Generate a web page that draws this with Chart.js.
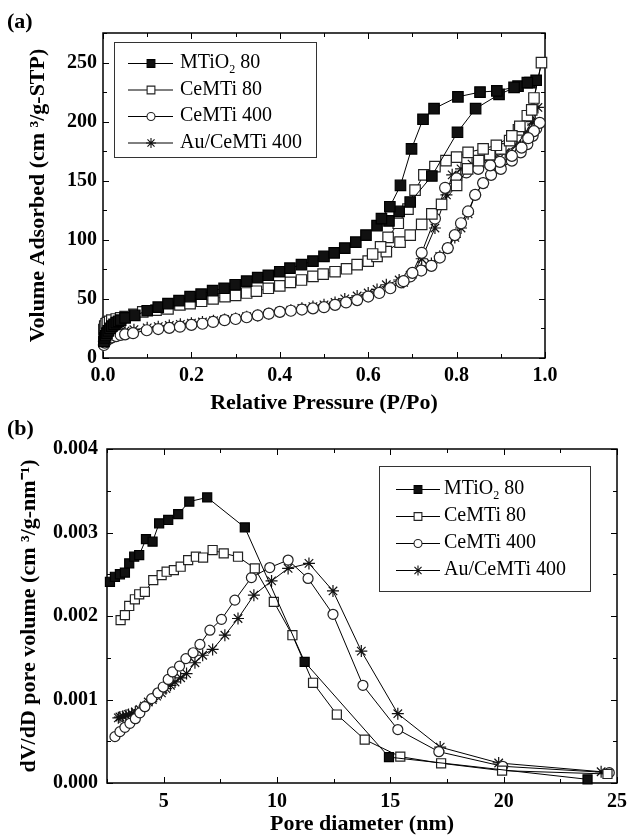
<!DOCTYPE html>
<html>
<head>
<meta charset="utf-8">
<script src="https://cdn.jsdelivr.net/npm/chart.js@4/dist/chart.umd.min.js"></script>
<style>
  html, body { margin: 0; padding: 0; background: #fff; }
  #wrap { position: relative; width: 628px; height: 839px; overflow: hidden; }
  canvas { position: absolute; left: 0; }
  .panel { position: absolute; left: 7px; font: bold 22px "Liberation Serif", serif; line-height: 22px; color: #000; }
</style>
</head>
<body>
<div id="wrap">
  <canvas id="cA" width="628" height="420" style="top:0"></canvas>
  <canvas id="cB" width="628" height="419" style="top:420px"></canvas>
  <div class="panel" style="top:10px">(a)</div>
  <div class="panel" style="top:417px">(b)</div>
</div>
<script>
// ---------- (a) N2 isotherms: relative pressure P/Po vs volume adsorbed ----------
const seriesNames = ['MTiO\u2082 80', 'CeMTi 80', 'CeMTi 400', 'Au/CeMTi 400'];

const mtAdsP = [0.002,0.004,0.006,0.009,0.012,0.016,0.02,0.025,0.03,0.035,0.04,0.05,0.072,0.1,0.125,0.147,0.172,0.197,0.222,0.248,0.274,0.299,0.325,0.35,0.374,0.4,0.423,0.449,0.475,0.5,0.523,0.547,0.572,0.595,0.62,0.647,0.67,0.695,0.744,0.802,0.843,0.896,0.939,0.966,0.98];
const mtAdsV = [14,17,19,21,23,25,27,28.5,30,31,32,34,36,40,43,46,48.5,52,54,57,59,62,65,68,70,73,76,79,82,86,89,93,98,104,112,116,124,132,154,191,211,223,230,233,235];
const mtDesP = [0.96,0.93,0.891,0.853,0.803,0.749,0.724,0.698,0.673,0.649,0.63];
const mtDesV = [233,229,226,225,221,211,202,177,146,128,118];

const ce80AdsP = [0.002,0.004,0.007,0.01,0.015,0.02,0.03,0.04,0.05,0.07,0.09,0.12,0.147,0.174,0.197,0.223,0.249,0.276,0.3,0.325,0.347,0.374,0.4,0.424,0.449,0.475,0.498,0.525,0.551,0.575,0.6,0.62,0.641,0.672,0.695,0.721,0.744,0.766,0.8,0.825,0.85,0.875,0.9,0.92,0.94,0.96,0.975,0.992];
const ce80AdsV = [24,27,29,30,31,32,33,34,35,37,39,40.5,41.5,45,46,48,50,52,53,55,56.5,59,61,64,66,69,71,73,75.5,79,82,86,90,98,104,113,122,130,146,160,167,172,177,184,193,205,220,250];
const ce80DesP = [0.97,0.943,0.925,0.89,0.86,0.826,0.8,0.776,0.751,0.726,0.706,0.69,0.668,0.645,0.628,0.61];
const ce80DesV = [210,196,188,180,177,174,170,167,162,155,142,126,114,102,94,88];

const ce400AdsP = [0.002,0.004,0.007,0.01,0.015,0.02,0.03,0.04,0.05,0.068,0.099,0.125,0.15,0.174,0.2,0.225,0.249,0.275,0.3,0.325,0.35,0.375,0.4,0.425,0.45,0.475,0.5,0.525,0.55,0.575,0.6,0.625,0.65,0.675,0.695,0.72,0.743,0.762,0.78,0.796,0.81,0.826,0.842,0.86,0.878,0.9,0.925,0.945,0.96,0.972,0.98,0.988];
const ce400AdsV = [11,13,14.5,15.5,16.5,17.5,18.5,19.5,20,21,23.5,24.5,25.5,26.5,28,29,30.5,32,33,34.5,36,37.5,39,40,41,42,43,45,47,49,52,55,59,64,69,74,78,85,93,104,114,124,138,148,155,160,167,174,181,188,194,199];
const ce400DesP = [0.975,0.962,0.947,0.925,0.898,0.876,0.849,0.822,0.8,0.774,0.751,0.721,0.7,0.68];
const ce400DesV = [192,186,178,171,166,163,160,157,152,144,118,89,72,65];

const auAdsP = [0.002,0.004,0.007,0.01,0.015,0.02,0.03,0.04,0.05,0.07,0.1,0.125,0.15,0.175,0.2,0.225,0.25,0.275,0.3,0.325,0.35,0.375,0.4,0.425,0.45,0.475,0.5,0.525,0.547,0.575,0.6,0.62,0.641,0.67,0.695,0.72,0.743,0.762,0.78,0.796,0.81,0.826,0.842,0.86,0.878,0.9,0.925,0.945,0.962,0.973,0.984];
const auAdsV = [14,16,17.5,18.5,19.5,20.5,21.5,22.5,23,24,25.5,26.5,27.5,28.5,29.5,30.5,31.5,32.5,33.5,35,36,37.5,39,40.5,42,43.5,45,47,50,52.5,55,58,62,66,70,75,80,86,93,102,110,122,138,148,156,164,172,180,190,198,212];
const auDesP = [0.97,0.955,0.935,0.91,0.885,0.86,0.835,0.81,0.79,0.777,0.751,0.721,0.7,0.68];
const auDesV = [200,190,180,174,170,167,164,160,155,138,110,84,71,64];

// ---------- (b) pore size distribution: pore diameter (nm) vs dV/dD ----------
const mtD = [2.63,2.85,3.07,3.29,3.48,3.7,3.92,4.22,4.51,4.8,5.2,5.64,6.13,6.92,8.58,11.22,14.94,23.7];
const mtDV = [0.00241,0.00247,0.0025,0.00252,0.00263,0.00271,0.00273,0.00292,0.00289,0.00311,0.00315,0.00322,0.00337,0.00342,0.00306,0.00145,0.00031,0.000044];

const ce80D = [3.1,3.29,3.48,3.73,3.92,4.17,4.54,4.91,5.13,5.45,5.75,6.08,6.42,6.74,7.16,7.65,8.28,9.02,9.86,10.68,11.59,12.64,13.87,15.44,17.24,19.93,24.58];
const ce80DV = [0.00195,0.00201,0.00212,0.0022,0.00226,0.00229,0.00243,0.00249,0.00253,0.00255,0.00259,0.00267,0.00271,0.0027,0.00279,0.00275,0.00271,0.00257,0.00217,0.00177,0.0012,0.00082,0.00052,0.000315,0.000236,0.000148,0.000108];

const ce400D = [2.85,3.07,3.29,3.51,3.75,3.95,4.17,4.47,4.75,4.98,5.2,5.39,5.7,5.98,6.3,6.6,7.04,7.55,8.14,8.87,9.68,10.49,11.37,12.47,13.79,15.33,17.14,19.96,24.66];
const ce400DV = [0.000555,0.000615,0.000667,0.000715,0.00077,0.00084,0.000914,0.00101,0.00108,0.00115,0.00124,0.00133,0.0014,0.00149,0.00156,0.00166,0.00183,0.00196,0.00219,0.00246,0.00258,0.00267,0.00245,0.00202,0.00117,0.00064,0.000375,0.0002,0.000124];

const auD = [3.0,3.07,3.2,3.34,3.45,3.59,3.75,3.95,4.15,4.32,4.5,4.69,4.9,5.1,5.3,5.5,5.75,6.01,6.38,6.72,7.16,7.7,8.28,8.98,9.76,10.49,11.41,12.47,13.72,15.33,17.2,19.78,24.3];
const auDV = [0.00078,0.00079,0.0008,0.00081,0.00082,0.00083,0.00085,0.00088,0.00092,0.00097,0.001,0.00104,0.00108,0.00113,0.00117,0.00121,0.00126,0.00131,0.00144,0.00153,0.0016,0.00177,0.00197,0.00225,0.00242,0.00257,0.00263,0.0023,0.00158,0.00083,0.00043,0.00024,0.000135];

// ---------- helpers ----------
const FONT = '"Liberation Serif", "Times New Roman", serif';
const pts = (xs, ys) => xs.map((v, i) => ({x: v, y: ys[i]}));

const markerStyles = [
  {pointStyle: 'rect',   bg: '#111', bc: '#000'},
  {pointStyle: 'rect',   bg: '#fff', bc: '#222'},
  {pointStyle: 'circle', bg: '#fff', bc: '#222'},
  {pointStyle: 'star',   bg: '#fff', bc: '#111'}
];

function makeDataset(i, data, radius) {
  const m = markerStyles[i];
  return {
    label: seriesNames[i],
    data: data,
    showLine: true,
    borderColor: '#000',
    borderWidth: 1,
    tension: 0,
    pointStyle: m.pointStyle,
    pointRadius: radius,
    pointHoverRadius: radius,
    pointBackgroundColor: m.bg,
    pointBorderColor: m.bc,
    pointBorderWidth: 1.2,
    clip: false
  };
}

function drawMarker(ctx, style, r, x, y) {
  ctx.beginPath();
  if (style === 'rect') {
    const s = r * Math.SQRT1_2;
    ctx.rect(x - s, y - s, 2 * s, 2 * s);
    ctx.fill(); ctx.stroke();
  } else if (style === 'circle') {
    ctx.arc(x, y, r, 0, Math.PI * 2);
    ctx.fill(); ctx.stroke();
  } else {
    for (let k = 0; k < 4; k++) {
      const a = k * Math.PI / 4;
      ctx.moveTo(x - r * Math.cos(a), y - r * Math.sin(a));
      ctx.lineTo(x + r * Math.cos(a), y + r * Math.sin(a));
    }
    ctx.stroke();
  }
}

// frame with inward ticks on all four sides
const frameTicks = {
  id: 'frameTicks',
  beforeDatasetsDraw(chart, args, o) {
    const {ctx, chartArea: a} = chart;
    const xs = chart.scales.x, ys = chart.scales.y;
    ctx.save();
    ctx.strokeStyle = '#000';
    ctx.lineWidth = 1;
    ctx.beginPath();
    xs.ticks.forEach(t => {
      const px = Math.round(xs.getPixelForValue(t.value)) + 0.5;
      const len = t.label ? o.major : o.minor;
      ctx.moveTo(px, a.bottom); ctx.lineTo(px, a.bottom - len);
      ctx.moveTo(px, a.top); ctx.lineTo(px, a.top + len);
    });
    ys.ticks.forEach(t => {
      const py = Math.round(ys.getPixelForValue(t.value)) + 0.5;
      const len = t.label ? o.major : o.minor;
      ctx.moveTo(a.left, py); ctx.lineTo(a.left + len, py);
      ctx.moveTo(a.right, py); ctx.lineTo(a.right - len, py);
    });
    ctx.stroke();
    ctx.lineWidth = o.frame;
    ctx.strokeRect(a.left, a.top, a.right - a.left, a.bottom - a.top);
    ctx.restore();
  }
};

// boxed legend inside the plot
const boxLegend = {
  id: 'boxLegend',
  afterDatasetsDraw(chart, args, o) {
    const ctx = chart.ctx;
    ctx.save();
    ctx.fillStyle = '#fff';
    ctx.fillRect(o.box[0], o.box[1], o.box[2], o.box[3]);
    ctx.strokeStyle = '#333';
    ctx.lineWidth = 1;
    ctx.strokeRect(o.box[0] + 0.5, o.box[1] + 0.5, o.box[2], o.box[3]);
    chart.data.datasets.forEach((ds, i) => {
      const yy = o.rowY + i * o.rowGap;
      ctx.strokeStyle = '#000';
      ctx.lineWidth = 1;
      ctx.beginPath();
      ctx.moveTo(o.lineX0, yy + 0.5); ctx.lineTo(o.lineX1, yy + 0.5);
      ctx.stroke();
      ctx.fillStyle = ds.pointBackgroundColor;
      ctx.strokeStyle = ds.pointBorderColor;
      ctx.lineWidth = 1.1;
      drawMarker(ctx, ds.pointStyle, o.r[i], o.markX, yy + 0.5);
      ctx.fillStyle = '#000';
      ctx.textBaseline = 'middle';
      ctx.textAlign = 'left';
      const parts = ds.label.split('\u2082');
      ctx.font = o.size + 'px ' + FONT;
      if (parts.length === 2) {
        let x = o.textX;
        ctx.fillText(parts[0], x, yy);
        x += ctx.measureText(parts[0]).width;
        ctx.font = Math.round(o.size * 0.62) + 'px ' + FONT;
        ctx.fillText('2', x, yy + o.size * 0.32);
        x += ctx.measureText('2').width;
        ctx.font = o.size + 'px ' + FONT;
        ctx.fillText(parts[1], x, yy);
      } else {
        ctx.fillText(ds.label, o.textX, yy);
      }
    });
    ctx.restore();
  }
};

function axisCommon(titleText, stepSize, min, max, labelFn, tickPad) {
  return {
    type: 'linear',
    min: min, max: max,
    grid: {display: false, drawTicks: false},
    border: {display: false},
    ticks: {
      stepSize: stepSize, autoSkip: false, maxRotation: 0, minRotation: 0,
      padding: tickPad, color: '#000',
      font: {family: FONT, size: 20, weight: 'bold'},
      callback: labelFn
    },
    title: {
      display: true, text: titleText, color: '#000', padding: 0,
      font: {family: FONT, size: 22, weight: 'bold'}
    }
  };
}

const isMult = (v, m) => Math.abs(v / m - Math.round(v / m)) < 1e-6;

// ---------- chart (a) ----------
const xA = axisCommon('Relative Pressure (P/Po)', 0.1, 0, 1, v => isMult(v, 0.2) ? v.toFixed(1) : '', 6);
xA.afterFit = s => { s.height = 59; s.paddingLeft = 0; s.paddingRight = 0; };
const yA = axisCommon('Volume Adsorbed (cm \u00B3/g-STP)', 25, 0, 275, v => isMult(v, 50) ? String(Math.round(v)) : '', 6);
yA.afterFit = s => { s.width = 78; s.paddingTop = 0; s.paddingBottom = 0; };

new Chart(document.getElementById('cA'), {
  type: 'scatter',
  data: {
    datasets: [
      makeDataset(0, pts(mtAdsP.concat(mtDesP), mtAdsV.concat(mtDesV)), 7.4),
      makeDataset(1, pts(ce80AdsP.concat(ce80DesP), ce80AdsV.concat(ce80DesV)), 7.4),
      makeDataset(2, pts(ce400AdsP.concat(ce400DesP), ce400AdsV.concat(ce400DesV)), 5.5),
      makeDataset(3, pts(auAdsP.concat(auDesP), auAdsV.concat(auDesV)), 6)
    ]
  },
  options: {
    responsive: false, animation: false, devicePixelRatio: 1,
    layout: {padding: {left: 25, top: 33, right: 83, bottom: 3}},
    scales: {x: xA, y: yA},
    plugins: {
      legend: {display: false}, tooltip: {enabled: false},
      frameTicks: {major: 6, minor: 4, frame: 1.5},
      boxLegend: {box: [114, 42, 202, 115], rowY: 63, rowGap: 26.5, lineX0: 128, lineX1: 173, markX: 151, textX: 180, size: 20, r: [5.5, 5.5, 4, 5]}
    }
  },
  plugins: [frameTicks, boxLegend]
});

// ---------- chart (b) ----------
const xB = axisCommon('Pore diameter (nm)', 2.5, 2.5, 25, v => isMult(v, 5) ? String(Math.round(v)) : '', 7);
xB.afterFit = s => { s.height = 55; s.paddingLeft = 0; s.paddingRight = 0; };
const yB = axisCommon('dV/dD pore volume (cm \u00B3/g-nm\u207B\u00B9)', 0.0005, 0, 0.004, v => isMult(v, 0.001) ? v.toFixed(3) : '', 9);
yB.afterFit = s => { s.width = 91; s.paddingTop = 0; s.paddingBottom = 0; };

new Chart(document.getElementById('cB'), {
  type: 'scatter',
  data: {
    datasets: [
      makeDataset(0, pts(mtD, mtDV), 6.4),
      makeDataset(1, pts(ce80D, ce80DV), 6.4),
      makeDataset(2, pts(ce400D, ce400DV), 5),
      makeDataset(3, pts(auD, auDV), 6)
    ]
  },
  options: {
    responsive: false, animation: false, devicePixelRatio: 1,
    layout: {padding: {left: 16, top: 29, right: 11, bottom: 1}},
    scales: {x: xB, y: yB},
    plugins: {
      legend: {display: false}, tooltip: {enabled: false},
      frameTicks: {major: 6, minor: 4, frame: 1.5},
      boxLegend: {box: [379, 46, 211, 125], rowY: 69, rowGap: 27, lineX0: 396, lineX1: 440, markX: 418, textX: 444, size: 20, r: [5.5, 5.5, 4, 5]}
    }
  },
  plugins: [frameTicks, boxLegend]
});
</script>
</body>
</html>
